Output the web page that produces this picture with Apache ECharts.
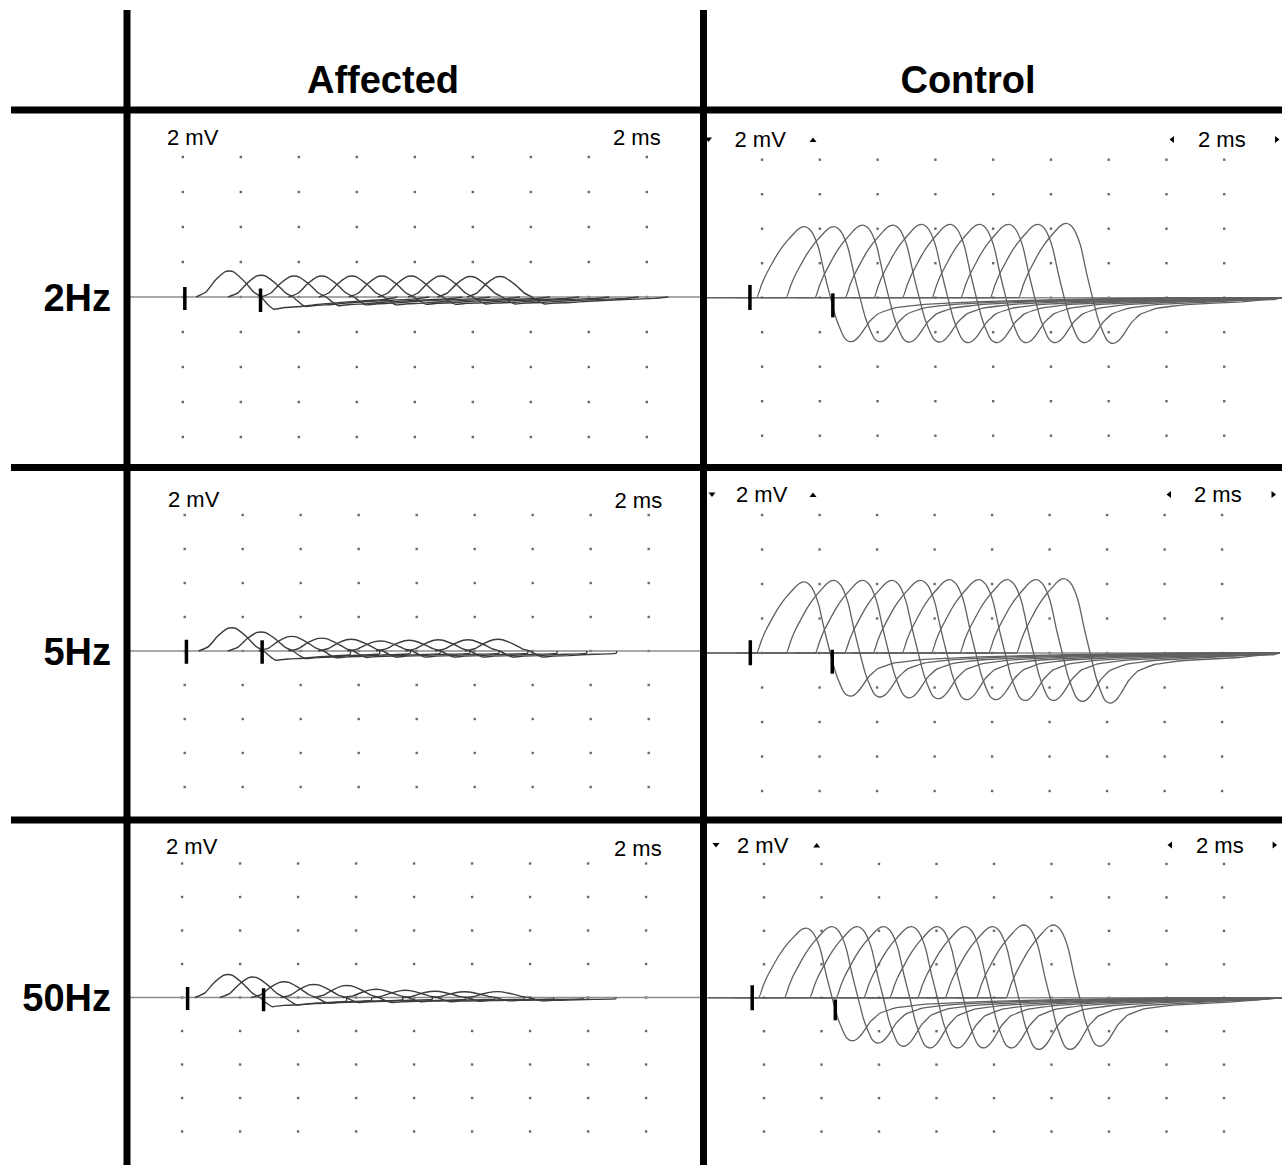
<!DOCTYPE html>
<html><head><meta charset="utf-8">
<script src="https://cdn.jsdelivr.net/npm/echarts@6/dist/echarts.min.js"></script>
<style>html,body{margin:0;padding:0;background:#fff}#c{width:1282px;height:1165px}</style>
</head><body><div id="c"></div>
<script>
// ================= DATA =================
const columns = ['Affected', 'Control'];
const rows = ['2Hz', '5Hz', '50Hz'];
const sensitivityLabel = '2 mV';
const sweepLabel = '2 ms';

// dotted screen grid (ms, mV)
const gridTimes = [2, 4, 6, 8, 10, 12, 14, 16, 18];
const gridVolts = [-8, -6, -4, -2, 0, 2, 4, 6, 8];

// waveform shapes (time relative to positive peak in ms, value normalised)
const affectedShapeT = [-1.14, -0.8, -0.48, -0.16, 0, 0.16, 0.54, 0.84, 1.1, 1.36, 1.54, 1.92, 2.44, 3.06, 4.08, 5.34, 7.2, 9.2];
const affectedShapeV = [0, 0.19, 0.64, 0.96, 1, 0.96, 0.58, 0.19, 0, -0.68, -1, -0.86, -0.78, -0.6, -0.4, -0.2, -0.08, 0];
const controlShapeT = [-1.66, -1.5, -1.34, -1.14, -0.96, -0.76, -0.58, -0.4, -0.26, -0.12, 0, 0.12, 0.26, 0.4, 0.52, 0.7, 0.9, 1.08, 1.28, 1.4, 1.52, 1.62, 1.74, 1.86, 1.98, 2.24, 2.56, 3.14, 4.16, 6.08, 9.2, 13];
const controlShapeV = [0, 0.17, 0.32, 0.47, 0.6, 0.72, 0.81, 0.89, 0.95, 0.99, 1, 0.98, 0.92, 0.8, 0.65, 0.32, 0, -0.44, -0.78, -0.93, -0.99, -1, -0.97, -0.9, -0.8, -0.55, -0.36, -0.23, -0.15, -0.09, -0.04, 0];

// Affected 2Hz (10 responses)
const affected2HzPeakTime = [3.60, 4.70, 5.84, 6.79, 7.83, 8.86, 9.87, 10.91, 11.92, 12.94];
const affected2HzPeak = [1.49, 1.24, 1.2, 1.2, 1.2, 1.2, 1.2, 1.2, 1.17, 1.17];
const affected2HzTrough = [0.70, 0.55, 0.5, 0.45, 0.45, 0.42, 0.42, 0.4, 0.4, 0.4];
const affected2HzMarkers = [[2.07, 0.57, -0.74], [4.68, 0.48, -0.86]];
// Affected 5Hz
const affected5HzPeakTime = [3.62, 4.63, 5.69, 6.72, 7.74, 8.75, 9.74, 10.75, 11.77, 12.8];
const affected5HzPeak = [1.37, 1.12, 0.86, 0.76, 0.69, 0.59, 0.63, 0.66, 0.66, 0.69];
const affected5HzTrough = [0.55, 0.45, 0.4, 0.38, 0.35, 0.35, 0.35, 0.35, 0.35, 0.35];
const affected5HzMarkers = [[2.06, 0.66, -0.75], [4.67, 0.63, -0.75]];
// Affected 50Hz
const affected50HzPeakTime = [3.58, 4.44, 5.52, 6.54, 7.68, 8.69, 9.70, 10.72, 11.73, 12.87];
const affected50HzPeak = [1.37, 1.22, 0.94, 0.78, 0.72, 0.49, 0.43, 0.37, 0.34, 0.35];
const affected50HzTrough = [0.55, 0.45, 0.35, 0.3, 0.3, 0.25, 0.25, 0.22, 0.2, 0.2];
const affected50HzMarkers = [[2.19, 0.62, -0.74], [4.81, 0.55, -0.82]];
// Control 2Hz
const control2HzPeakTime = [3.47, 4.49, 5.49, 6.54, 7.53, 8.52, 9.54, 10.54, 11.56, 12.54];
const control2HzPeak = [4.12, 4.12, 4.21, 4.21, 4.25, 4.25, 4.25, 4.25, 4.25, 4.31];
const control2HzTrough = [2.55, 2.55, 2.57, 2.57, 2.6, 2.6, 2.6, 2.6, 2.6, 2.65];
const control2HzMarkers = [[1.58, 0.74, -0.71], [4.45, 0.25, -1.14]];
// Control 5Hz
const control5HzPeakTime = [3.47, 4.50, 5.51, 6.53, 7.52, 8.53, 9.55, 10.54, 11.54, 12.51];
const control5HzPeak = [4.12, 4.21, 4.21, 4.21, 4.21, 4.25, 4.25, 4.25, 4.25, 4.31];
const control5HzTrough = [2.5, 2.55, 2.6, 2.65, 2.7, 2.7, 2.75, 2.75, 2.8, 2.9];
const control5HzMarkers = [[1.59, 0.74, -0.71], [4.44, 0.19, -1.2]];
// Control 50Hz
const control50HzPeakTime = [3.47, 4.37, 5.25, 6.17, 7.13, 8.03, 9.0, 9.96, 11.05, 12.08];
const control50HzPeak = [4.16, 4.25, 4.25, 4.25, 4.25, 4.25, 4.25, 4.25, 4.35, 4.35];
const control50HzTrough = [2.57, 2.71, 2.9, 3.0, 3.0, 3.0, 3.0, 3.09, 3.09, 2.9];
const control50HzMarkers = [[1.59, 0.74, -0.74], [4.48, -0.1, -1.35]];

// ================= LAYOUT =================
const panels = [
  {kind: 'A', peakT: affected2HzPeakTime, peak: affected2HzPeak, trough: affected2HzTrough, markers: affected2HzMarkers, sweepEnd: 5.8, left: 124.8, width: 580, base: 297, div: 35},
  {kind: 'A', peakT: affected5HzPeakTime, peak: affected5HzPeak, trough: affected5HzTrough, markers: affected5HzMarkers, sweepEnd: 4.1, left: 126.7, width: 580, base: 651, div: 34},
  {kind: 'A', peakT: affected50HzPeakTime, peak: affected50HzPeak, trough: affected50HzTrough, markers: affected50HzMarkers, sweepEnd: 4.1, left: 124.1, width: 580, base: 1000, div: 34},
  {kind: 'C', peakT: control2HzPeakTime, peak: control2HzPeak, trough: control2HzTrough, markers: control2HzMarkers, sweepEnd: 20, left: 704.3, width: 578, base: 297.7, div: 34.5},
  {kind: 'C', peakT: control5HzPeakTime, peak: control5HzPeak, trough: control5HzTrough, markers: control5HzMarkers, sweepEnd: 20, left: 704.6, width: 575, base: 653, div: 34.5},
  {kind: 'C', peakT: control50HzPeakTime, peak: control50HzPeak, trough: control50HzTrough, markers: control50HzMarkers, sweepEnd: 20, left: 706.5, width: 575, base: 1003, div: 34.5}
];

function buildTrace(peakT, pAmp, tAmp, shT, shV, tStart, tEnd) {
  const pts = [];
  if (tStart < peakT + shT[0]) pts.push([tStart, 0]);
  let last = tStart;
  for (let i = 0; i < shT.length; i++) {
    const t = peakT + shT[i];
    if (t < tStart || t > tEnd) continue;
    const v = shV[i] >= 0 ? shV[i] * pAmp : shV[i] * tAmp;
    pts.push([t, v]);
    last = t;
  }
  if (last < tEnd) pts.push([tEnd, 0]);
  return pts;
}

const grids = [], xAxes = [], yAxes = [], series = [];
const dotData = [];
gridTimes.forEach(t => gridVolts.forEach(v => dotData.push([t, v])));

panels.forEach((p, i) => {
  grids.push({left: p.left, top: p.base - 5 * p.div, width: p.width, height: 10 * p.div});
  xAxes.push({type: 'value', gridIndex: i, min: 0, max: 20, show: false});
  yAxes.push({type: 'value', gridIndex: i, min: -10, max: 10, show: false});
  series.push({type: 'scatter', xAxisIndex: i, yAxisIndex: i, data: dotData, symbol: 'rect', symbolSize: 2.4,
    itemStyle: {color: '#444'}, silent: true, z: 1, animation: false});
  series.push({type: 'line', xAxisIndex: i, yAxisIndex: i, data: [[0, 0], [20, 0]], symbol: 'none',
    lineStyle: {color: '#8c8c8c', width: 1.5}, silent: true, z: 2, animation: false});
  const isA = p.kind === 'A';
  p.peakT.forEach((pt, k) => {
    const tStart = isA ? pt + affectedShapeT[0] : Math.max(0, pt - 3.4);
    const tEnd = isA ? pt + p.sweepEnd : 20;
    const data = isA
      ? buildTrace(pt, p.peak[k], p.trough[k], affectedShapeT, affectedShapeV, tStart, tEnd)
      : buildTrace(pt, p.peak[k], p.trough[k], controlShapeT, controlShapeV, tStart, tEnd);
    series.push({type: 'line', xAxisIndex: i, yAxisIndex: i, data, symbol: 'none',
      smooth: isA ? 0.15 : 0.1,
      lineStyle: {color: isA ? '#3c3c3c' : '#606060', width: isA ? 1.4 : 1.3},
      silent: true, z: 3, animation: false});
  });
  p.markers.forEach(m => {
    series.push({type: 'line', xAxisIndex: i, yAxisIndex: i, data: [[m[0], m[1]], [m[0], m[2]]], symbol: 'none',
      lineStyle: {color: '#000', width: 3.5, cap: 'butt'}, silent: true, z: 4, animation: false});
  });
});

// ================= TEXT & FRAME =================
const bigFont = 'bold 38px "Liberation Sans", Arial, Helvetica, sans-serif';
const smallFont = '22px "Liberation Sans", Arial, Helvetica, sans-serif';
function txt(text, x, y, font, align) {
  return {type: 'text', x, y, z: 100,
    style: {text, font, fill: '#000', align: align, verticalAlign: 'middle', textAlign: align, textVerticalAlign: 'middle'}};
}
function tri(points) {
  return {type: 'polygon', z: 100, shape: {points}, style: {fill: '#000'}};
}
const graphic = [
  {type: 'rect', z: 100, shape: {x: 123.5, y: 10, width: 7, height: 1155}, style: {fill: '#000'}},
  {type: 'rect', z: 100, shape: {x: 700, y: 10, width: 7, height: 1155}, style: {fill: '#000'}},
  {type: 'rect', z: 100, shape: {x: 11, y: 106.5, width: 1271, height: 7}, style: {fill: '#000'}},
  {type: 'rect', z: 100, shape: {x: 11, y: 464, width: 1271, height: 7}, style: {fill: '#000'}},
  {type: 'rect', z: 100, shape: {x: 11, y: 816.5, width: 1271, height: 7}, style: {fill: '#000'}},
  txt(columns[0], 383, 80, bigFont, 'center'),
  txt(columns[1], 968, 80, bigFont, 'center'),
  txt(rows[0], 111, 298, bigFont, 'right'),
  txt(rows[1], 111, 652, bigFont, 'right'),
  txt(rows[2], 111, 998, bigFont, 'right')
];
const affLabelPos = [[167, 137.5, 613, 137.5], [168, 499.5, 614.5, 500], [166, 846.5, 614, 848]];
affLabelPos.forEach(a => {
  graphic.push(txt(sensitivityLabel, a[0], a[1], smallFont, 'left'));
  graphic.push(txt(sweepLabel, a[2], a[3], smallFont, 'left'));
});
const ctlLabelPos = [[734.5, 1198, 139.5, 708.5, 813, 1172, 1277], [736, 1194, 494.5, 712, 813, 1169, 1273.5], [737, 1196, 845, 716, 816.7, 1170, 1274.6]];
ctlLabelPos.forEach(c => {
  const y = c[2];
  graphic.push(txt(sensitivityLabel, c[0], y, smallFont, 'left'));
  graphic.push(txt(sweepLabel, c[1], y, smallFont, 'left'));
  graphic.push(tri([[c[3] - 3.5, y - 2], [c[3] + 3.5, y - 2], [c[3], y + 2.5]]));
  graphic.push(tri([[c[4] - 3.5, y + 2.5], [c[4] + 3.5, y + 2.5], [c[4], y - 2]]));
  graphic.push(tri([[c[5] + 2, y - 3.5], [c[5] + 2, y + 3.5], [c[5] - 2.5, y]]));
  graphic.push(tri([[c[6] - 2, y - 3.5], [c[6] - 2, y + 3.5], [c[6] + 2.5, y]]));
});

const chart = echarts.init(document.getElementById('c'), null, {renderer: 'svg', width: 1282, height: 1165});
chart.setOption({
  backgroundColor: '#fff',
  animation: false,
  grid: grids,
  xAxis: xAxes,
  yAxis: yAxes,
  series,
  graphic
});
</script></body></html>
